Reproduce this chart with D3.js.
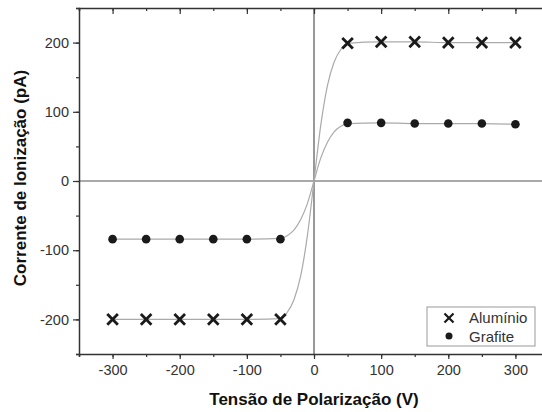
<!DOCTYPE html>
<html>
<head>
<meta charset="utf-8">
<script src="https://cdn.jsdelivr.net/npm/d3@7"></script>
<style>
body { margin: 0; background: #fff; }
text { font-family: "Liberation Sans", Arial, sans-serif; }
</style>
</head>
<body>
<div id="chart"></div>
<script>
var svgWidth = 542;
var svgHeight = 412;

// measured points
var voltage = [-300, -250, -200, -150, -100, -50, 50, 100, 150, 200, 250, 300];
var aluminio = [-200, -200, -200, -200, -200, -200, 199, 201, 201, 200, 200, 200];
var grafite = [-84, -84, -84, -84, -84, -84, 84, 84, 83, 83, 83, 82];

// fitted curves
var fitVoltage = [-300, -250, -200, -150, -100, -50, -40, -30, -20, -10, 0, 10, 20, 30, 40, 50, 100, 150, 200, 250, 300];
var fitAluminio = [-200, -200, -200, -200, -200, -199, -190, -172, -138, -80, 0, 80, 138, 172, 190, 199, 201, 201, 200, 200, 200];
var fitGrafite = [-84, -84, -84, -84, -84, -83, -79, -71, -56, -33, 0, 33, 56, 71, 79, 83, 84, 83, 83, 83, 82];

var xTicks = [-300, -200, -100, 0, 100, 200, 300];
var yTicks = [-200, -100, 0, 100, 200];

var margin = { top: 8, left: 79 };
var width = 470;
var height = 346;

var svg = d3.select("#chart")
    .append("svg")
    .attr("width", svgWidth)
    .attr("height", svgHeight);

var chartGroup = svg.append("g")
    .attr("transform", `translate(${margin.left}, ${margin.top})`);

var x = d3.scaleLinear().domain([-350, 350]).range([0, width]);
var y = d3.scaleLinear().domain([-250, 250]).range([height, 0]);

var axisColor = "#333";

// zero lines
chartGroup.append("line")
    .attr("x1", 0).attr("x2", width)
    .attr("y1", y(0)).attr("y2", y(0))
    .attr("stroke", "#555").attr("stroke-width", 1.2);
chartGroup.append("line")
    .attr("x1", x(0)).attr("x2", x(0))
    .attr("y1", 0).attr("y2", height)
    .attr("stroke", "#555").attr("stroke-width", 1.2);

// fit lines
var fitLine = function (vals) {
    return d3.line()
        .x((d, i) => x(fitVoltage[i]))
        .y(d => y(d))
        .curve(d3.curveMonotoneX)(vals);
};
[fitAluminio, fitGrafite].forEach(function (vals) {
    chartGroup.append("path")
        .attr("d", fitLine(vals))
        .attr("fill", "none")
        .attr("stroke", "#aaa")
        .attr("stroke-width", 1.2);
});

// axes
function styleAxis(g) {
    g.select(".domain").attr("stroke", axisColor).attr("stroke-width", 1.5);
    g.selectAll(".tick line").attr("stroke", axisColor).attr("stroke-width", 1.2);
    g.selectAll("text").attr("fill", "#333").attr("font-size", "14.5px")
        .style("font-family", "'Liberation Sans', Arial, sans-serif");
}

var minorX = d3.range(-350, 351, 50);
var minorY = d3.range(-250, 251, 50);
var plain = d => String(d);

chartGroup.append("g")
    .attr("transform", `translate(0, ${height})`)
    .call(d3.axisBottom(x).tickValues(minorX).tickSize(3).tickFormat(""))
    .call(styleAxis);
chartGroup.append("g")
    .attr("transform", `translate(0, ${height})`)
    .call(d3.axisBottom(x).tickValues(xTicks).tickSize(5).tickPadding(6).tickSizeOuter(0).tickFormat(plain))
    .call(styleAxis)
    .call(g => g.select(".domain").remove());

chartGroup.append("g")
    .call(d3.axisTop(x).tickValues(minorX).tickSize(-3).tickFormat(""))
    .call(styleAxis);
chartGroup.append("g")
    .call(d3.axisTop(x).tickValues(xTicks).tickSize(-6).tickFormat("").tickSizeOuter(0))
    .call(styleAxis)
    .call(g => g.select(".domain").remove());

chartGroup.append("g")
    .call(d3.axisLeft(y).tickValues(minorY).tickSize(3).tickFormat(""))
    .call(styleAxis);
chartGroup.append("g")
    .call(d3.axisLeft(y).tickValues(yTicks).tickSize(6).tickPadding(4).tickSizeOuter(0).tickFormat(plain))
    .call(styleAxis)
    .call(g => g.select(".domain").remove());

// markers
var cross = d3.symbol().type(d3.symbolX).size(75);

chartGroup.append("g")
    .selectAll("path")
    .data(aluminio)
    .enter()
    .append("path")
    .attr("d", cross)
    .attr("transform", (d, i) => `translate(${x(voltage[i])}, ${y(d)})`)
    .attr("stroke", "#1a1a1a")
    .attr("stroke-width", 2.8)
    .attr("fill", "none");

chartGroup.append("g")
    .selectAll("circle")
    .data(grafite)
    .enter()
    .append("circle")
    .attr("cx", (d, i) => x(voltage[i]))
    .attr("cy", d => y(d))
    .attr("r", 4.3)
    .attr("fill", "#1a1a1a");

// legend
var legend = svg.append("g").attr("transform", "translate(427, 307)");
legend.append("rect")
    .attr("width", 108).attr("height", 39)
    .attr("fill", "#fff")
    .attr("stroke", "#999")
    .attr("stroke-width", 1);
legend.append("path")
    .attr("d", d3.symbol().type(d3.symbolX).size(55)())
    .attr("transform", "translate(22, 11)")
    .attr("stroke", "#1a1a1a").attr("stroke-width", 2.2).attr("fill", "none");
legend.append("circle")
    .attr("cx", 22).attr("cy", 29).attr("r", 3.5).attr("fill", "#1a1a1a");
legend.append("text")
    .attr("x", 42).attr("y", 15.5)
    .attr("font-size", "15px").attr("fill", "#333")
    .text("Alumínio");
legend.append("text")
    .attr("x", 42).attr("y", 34.5)
    .attr("font-size", "15px").attr("fill", "#333")
    .text("Grafite");

// axis titles
svg.append("text")
    .attr("x", x(0) + margin.left)
    .attr("y", 405)
    .attr("text-anchor", "middle")
    .attr("font-size", "17px")
    .attr("font-weight", "bold")
    .attr("fill", "#111")
    .text("Tensão de Polarização (V)");

svg.append("text")
    .attr("transform", "rotate(-90)")
    .attr("x", -178)
    .attr("y", 26)
    .attr("text-anchor", "middle")
    .attr("font-size", "17px")
    .attr("font-weight", "bold")
    .attr("fill", "#111")
    .text("Corrente de Ionização (pA)");
</script>
</body>
</html>
